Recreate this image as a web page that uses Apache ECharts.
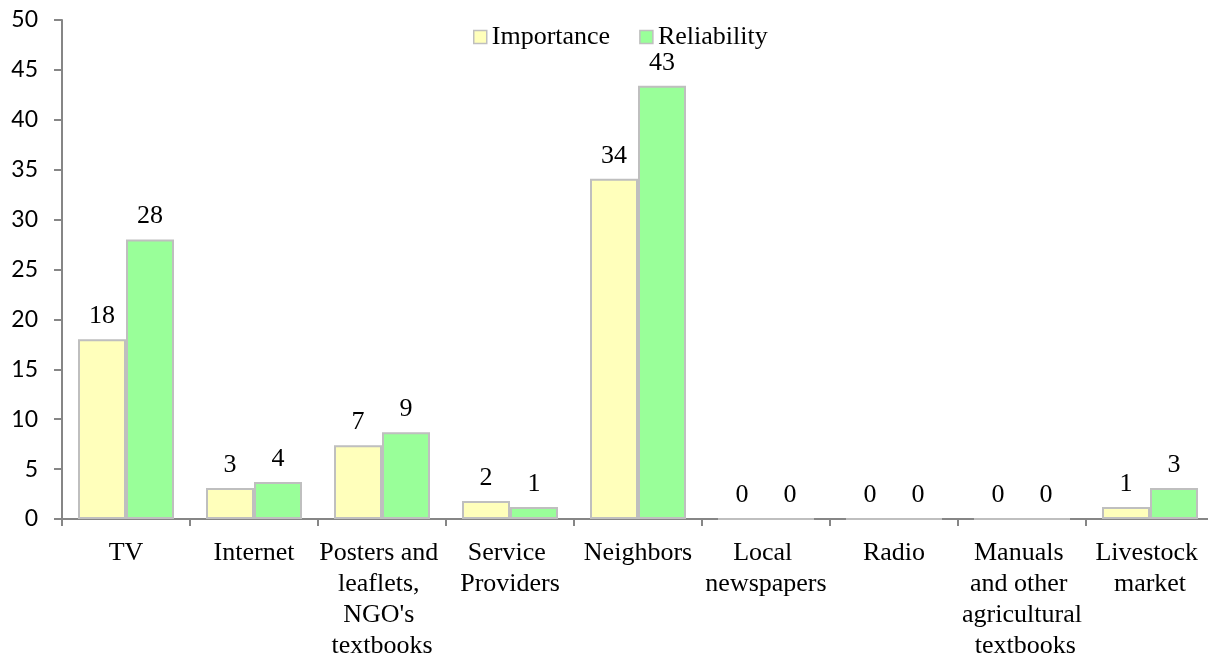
<!DOCTYPE html>
<html>
<head>
<meta charset="utf-8">
<script src="https://cdn.jsdelivr.net/npm/echarts@6/dist/echarts.min.js"></script>
<style>
  html, body { margin: 0; padding: 0; background: #fff; }
  #main { width: 1208px; height: 656px; }
</style>
</head>
<body>
<div id="main"></div>
<script>
var categories = ['TV', 'Internet', "Posters and leaflets, NGO's textbooks", 'Service Providers',
  'Neighbors', 'Local newspapers', 'Radio', 'Manuals and other agricultural textbooks', 'Livestock market'];
var importance = [18.0, 3.1, 7.4, 1.8, 34.1, 0, 0, 0, 1.2];
var reliability = [28.0, 3.7, 8.7, 1.2, 43.4, 0, 0, 0, 3.1];

var serif = '"Liberation Serif", "Times New Roman", serif';

var chart = echarts.init(document.getElementById('main'), null, { renderer: 'canvas' });

function barSeries(name, data, color) {
  return {
    name: name,
    type: 'bar',
    data: data,
    barGap: '0%',
    barCategoryGap: '25%',
    itemStyle: {
      color: color,
      borderColor: '#bfbfbf',
      borderWidth: 2
    },
    label: {
      show: true,
      position: 'top',
      distance: 10,
      fontFamily: serif,
      fontSize: 26,
      color: '#000',
      formatter: function (p) { return Math.round(p.value); }
    }
  };
}

var option = {
  animation: false,
  backgroundColor: '#fff',
  legend: {
    left: 468,
    top: 19,
    icon: 'rect',
    itemWidth: 13,
    itemHeight: 13,
    itemGap: 29,
    itemStyle: { borderColor: '#bfbfbf', borderWidth: 1.5 },
    textStyle: { fontFamily: serif, fontSize: 26, color: '#000' },
    data: ['Importance', 'Reliability']
  },
  grid: {
    left: 62,
    top: 20,
    width: 1152,
    bottom: 137,
    containLabel: false,
    outerBoundsMode: 'none'
  },
  xAxis: {
    type: 'category',
    data: categories,
    axisLine: { lineStyle: { color: '#868686', width: 2 } },
    axisTick: { show: true, interval: 0, length: 7, lineStyle: { color: '#868686', width: 2 } },
    axisLabel: {
      interval: 0,
      margin: 19,
      width: 126,
      overflow: 'break',
      fontFamily: serif,
      fontSize: 26,
      lineHeight: 31,
      color: '#000'
    }
  },
  yAxis: {
    type: 'value',
    min: 0,
    max: 50,
    interval: 5,
    splitLine: { show: false },
    axisLine: { show: true, lineStyle: { color: '#868686', width: 2 } },
    axisTick: { show: true, length: 8, lineStyle: { color: '#868686', width: 2 } },
    axisLabel: {
      margin: 24,
      fontFamily: 'Lato, "Open Sans", sans-serif',
      fontSize: 23,
      color: '#000'
    }
  },
  series: [
    barSeries('Importance', importance, '#ffffbb'),
    barSeries('Reliability', reliability, '#99ff99')
  ]
};

chart.setOption(option);
</script>
</body>
</html>
